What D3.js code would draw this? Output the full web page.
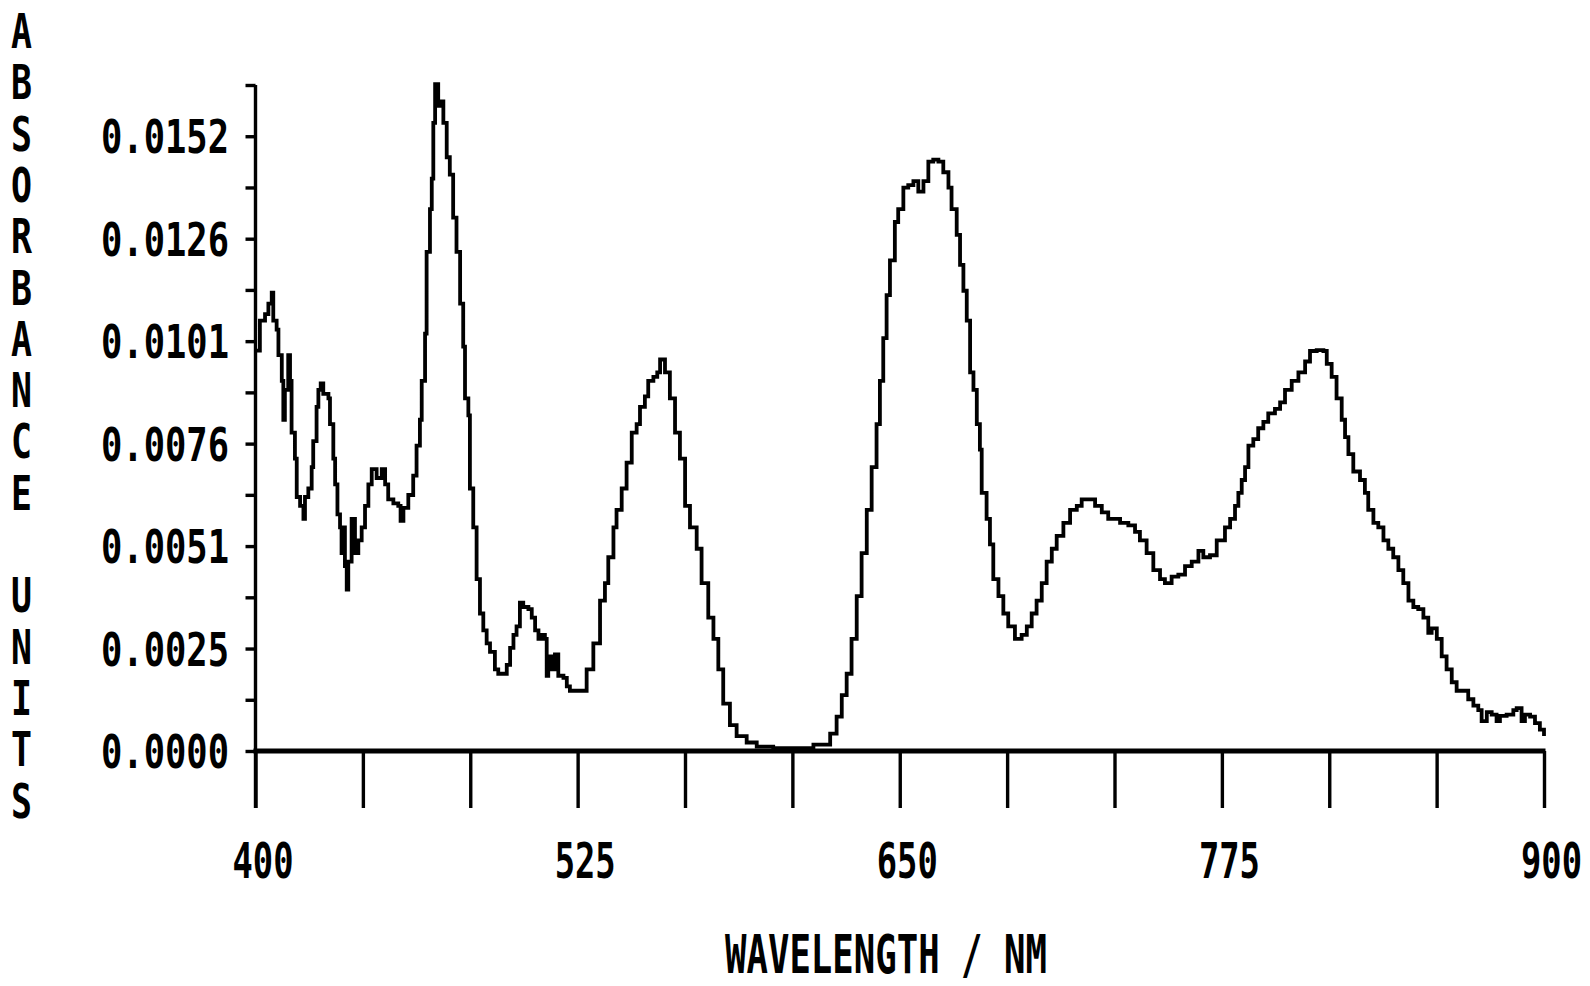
<!DOCTYPE html>
<html>
<head>
<meta charset="utf-8">
<script src="https://cdn.jsdelivr.net/npm/d3@7"></script>
<style>
  html, body { margin: 0; padding: 0; background: #fff; }
  svg { display: block; }
  text { font-family: "DejaVu Sans Mono", monospace; font-weight: bold; fill: #000; }
</style>
</head>
<body>
<svg id="chart" width="1590" height="986"></svg>
<script>
// ---- data ----
const wavelength = [400.0,401.7,403.7,405.0,406.3,406.9,408.2,408.9,410.2,410.8,411.4,412.7,413.4,414.0,415.3,416.0,417.3,418.6,419.2,420.5,421.8,422.4,423.7,424.4,425.3,426.3,428.3,428.9,430.2,430.9,431.8,432.8,433.4,434.1,434.7,435.4,436.0,437.3,438.6,439.9,441.2,442.5,443.8,445.1,447.0,449.0,450.3,451.5,453.5,455.4,456.3,457.4,459.3,461.2,462.5,463.8,464.5,465.8,466.4,467.7,468.4,469.0,469.7,470.9,472.2,472.9,474.2,475.4,476.7,478.0,479.4,480.6,481.3,482.6,483.2,484.5,485.8,487.1,488.4,489.7,491.0,492.9,494.2,496.2,497.5,498.8,500.1,501.3,502.6,503.9,505.9,507.2,508.5,509.8,511.0,512.3,513.0,513.6,514.9,516.2,517.5,519.5,520.8,522.0,524.6,526.6,528.5,531.1,533.7,535.6,536.9,538.9,540.1,542.1,544.0,546.0,547.9,549.2,551.1,552.4,554.4,555.9,557.0,558.9,560.8,562.8,564.7,566.7,568.6,571.2,573.1,575.7,577.7,579.6,581.5,584.1,586.7,590.6,594.5,600.9,608.7,616.5,620.4,623.0,625.5,627.5,629.4,631.3,633.3,635.2,637.2,639.1,641.0,642.3,643.6,644.9,646.2,648.1,649.4,651.4,653.3,655.3,657.2,659.2,661.1,663.0,665.0,666.9,668.9,670.1,672.1,673.4,674.7,676.0,677.3,678.6,679.9,681.1,681.8,683.7,685.0,686.3,688.3,690.2,692.1,694.7,697.3,699.3,701.2,703.1,705.1,707.0,709.0,710.9,713.5,716.1,718.7,720.6,723.2,725.8,728.4,730.9,733.5,735.5,738.7,741.3,743.2,745.8,748.4,751.0,752.9,755.5,758.1,760.7,763.3,765.9,767.8,770.4,773.0,776.2,778.2,780.1,781.4,782.7,784.0,785.3,787.2,789.1,791.1,793.0,795.6,797.6,799.5,802.1,804.7,807.3,809.2,811.8,814.4,815.7,817.6,819.5,821.5,822.8,824.1,826.0,828.6,830.5,831.8,833.8,835.7,837.7,839.6,841.5,843.5,845.4,847.4,849.3,851.2,853.2,855.1,856.4,858.4,860.3,862.2,864.2,866.1,868.7,870.6,872.6,874.5,875.8,877.8,879.7,881.6,882.9,885.5,888.1,889.4,891.3,892.6,894.6,896.5,898.4,900.0];

const absorbance = [0.00990,0.01064,0.01080,0.01106,0.01133,0.01064,0.01042,0.00979,0.00915,0.00819,0.00893,0.00979,0.00915,0.00787,0.00723,0.00628,0.00606,0.00574,0.00628,0.00649,0.00702,0.00766,0.00851,0.00893,0.00909,0.00883,0.00872,0.00808,0.00723,0.00659,0.00585,0.00553,0.00489,0.00553,0.00457,0.00399,0.00468,0.00574,0.00489,0.00521,0.00553,0.00606,0.00659,0.00697,0.00675,0.00697,0.00659,0.00622,0.00612,0.00606,0.00569,0.00601,0.00633,0.00681,0.00755,0.00819,0.00915,0.01032,0.01234,0.01340,0.01415,0.01553,0.01649,0.01595,0.01606,0.01553,0.01468,0.01425,0.01319,0.01234,0.01106,0.01000,0.00872,0.00830,0.00649,0.00553,0.00425,0.00340,0.00298,0.00266,0.00245,0.00202,0.00191,0.00191,0.00213,0.00255,0.00287,0.00308,0.00367,0.00356,0.00351,0.00330,0.00298,0.00277,0.00287,0.00277,0.00186,0.00234,0.00202,0.00239,0.00186,0.00181,0.00160,0.00149,0.00149,0.00149,0.00202,0.00266,0.00372,0.00415,0.00479,0.00553,0.00596,0.00649,0.00713,0.00787,0.00808,0.00851,0.00877,0.00915,0.00925,0.00936,0.00968,0.00936,0.00872,0.00787,0.00723,0.00606,0.00553,0.00500,0.00415,0.00330,0.00277,0.00202,0.00117,0.00064,0.00037,0.00021,0.00011,0.00007,0.00007,0.00016,0.00016,0.00043,0.00085,0.00138,0.00191,0.00277,0.00383,0.00489,0.00596,0.00702,0.00808,0.00915,0.01021,0.01127,0.01213,0.01308,0.01340,0.01393,0.01399,0.01409,0.01383,0.01409,0.01457,0.01462,0.01457,0.01431,0.01393,0.01340,0.01276,0.01202,0.01138,0.01064,0.00936,0.00893,0.00808,0.00745,0.00638,0.00574,0.00511,0.00425,0.00383,0.00340,0.00308,0.00277,0.00287,0.00308,0.00340,0.00372,0.00415,0.00468,0.00500,0.00532,0.00564,0.00596,0.00606,0.00622,0.00622,0.00606,0.00590,0.00574,0.00574,0.00564,0.00558,0.00542,0.00521,0.00489,0.00447,0.00425,0.00415,0.00431,0.00436,0.00457,0.00468,0.00495,0.00479,0.00484,0.00521,0.00553,0.00574,0.00606,0.00638,0.00670,0.00702,0.00755,0.00771,0.00798,0.00814,0.00835,0.00846,0.00862,0.00893,0.00915,0.00936,0.00963,0.00989,0.00991,0.00989,0.00957,0.00925,0.00872,0.00819,0.00776,0.00734,0.00691,0.00670,0.00638,0.00596,0.00564,0.00553,0.00521,0.00500,0.00479,0.00447,0.00415,0.00372,0.00356,0.00351,0.00330,0.00292,0.00303,0.00277,0.00234,0.00202,0.00170,0.00149,0.00149,0.00128,0.00112,0.00101,0.00074,0.00096,0.00090,0.00074,0.00087,0.00090,0.00101,0.00106,0.00074,0.00090,0.00085,0.00069,0.00053,0.00037];

const xTickLabels = ["400", "525", "650", "775", "900"];
const yTickLabels = ["0.0000", "0.0025", "0.0051", "0.0076", "0.0101", "0.0126", "0.0152"];
const yTitle = "ABSORBANCE UNITS";
const xTitle = "WAVELENGTH / NM";

// ---- layout ----
const yStep = 0.0152 / 6;           // labelled tick step
const yMax = yStep * 6.5;           // top of axis (one half step above 0.0152)
const x = d3.scaleLinear().domain([400, 900]).range([255.5, 1544]);
const y = d3.scaleLinear().domain([0, yMax]).range([751, 85]);

const svg = d3.select("#chart");

// condensed text: place at (px, py) and squeeze horizontally to a target width
function squeeze(sel, px, py, width) {
  sel.each(function(d, i) {
    const node = this;
    const w = node.getComputedTextLength();
    const sx = w > 0 ? width / w : 1;
    d3.select(node).attr("transform",
      `translate(${px(d, i)},${py(d, i)}) scale(${sx},1)`);
  });
}

// y axis: vertical line + ticks on the left (every half step)
const yMinor = d3.range(0, 14).map(k => k * yStep / 2);
const yAxis = svg.append("g").attr("transform", `translate(${x(400)},0)`)
  .call(d3.axisLeft(y).tickValues(yMinor).tickSize(10).tickSizeOuter(0).tickFormat(""));
yAxis.select(".domain").remove();
yAxis.selectAll(".tick line").attr("stroke", "#000").attr("stroke-width", 3.4);
svg.append("line").attr("x1", x(400)).attr("x2", x(400))
  .attr("y1", y(yMax)).attr("y2", 808)
  .attr("stroke", "#000").attr("stroke-width", 3.4);

// x axis: thick baseline + downward ticks
const xTicks = d3.range(0, 13).map(k => 400 + k * 125 / 3);
const xAxis = svg.append("g").attr("transform", `translate(0,${y(0)})`)
  .call(d3.axisBottom(x).tickValues(xTicks).tickSize(57).tickSizeOuter(0).tickFormat(""));
xAxis.select(".domain").remove();
xAxis.selectAll(".tick line").attr("stroke", "#000").attr("stroke-width", 3.4);
svg.append("line").attr("x1", x(400) - 2).attr("x2", x(900) + 1.5)
  .attr("y1", y(0)).attr("y2", y(0))
  .attr("stroke", "#000").attr("stroke-width", 5);

// y tick labels
svg.append("g").selectAll("text").data(yTickLabels).join("text")
  .attr("font-size", 46)
  .text(d => d)
  .call(squeeze, () => 101, (d, i) => y(i * yStep) + 17, 128);

// x tick labels
svg.append("g").selectAll("text").data(xTickLabels).join("text")
  .attr("font-size", 50)
  .text(d => d)
  .call(squeeze, d => x(+d) - 23, () => 878, 61);

// x title
svg.append("g").selectAll("text").data([xTitle]).join("text")
  .attr("font-size", 53)
  .text(d => d)
  .call(squeeze, () => 725, () => 973, 322);

// y title: stacked letters
svg.append("g").selectAll("text").data(yTitle.split("").filter(c => true)).join("text")
  .attr("font-size", 48)
  .text(d => d === " " ? "" : d)
  .call(squeeze, () => 11, (d, i) => 31 + 51.3 * i + 17, 21);

// spectrum line
const pts = wavelength.map((w, i) => [w, absorbance[i]]);
svg.append("path")
  .datum(pts)
  .attr("fill", "none")
  .attr("stroke", "#000")
  .attr("stroke-width", 3.8)
  .attr("stroke-linejoin", "miter")
  .attr("d", d3.line().x(d => x(d[0])).y(d => y(d[1])).curve(d3.curveStepAfter));
</script>
</body>
</html>
